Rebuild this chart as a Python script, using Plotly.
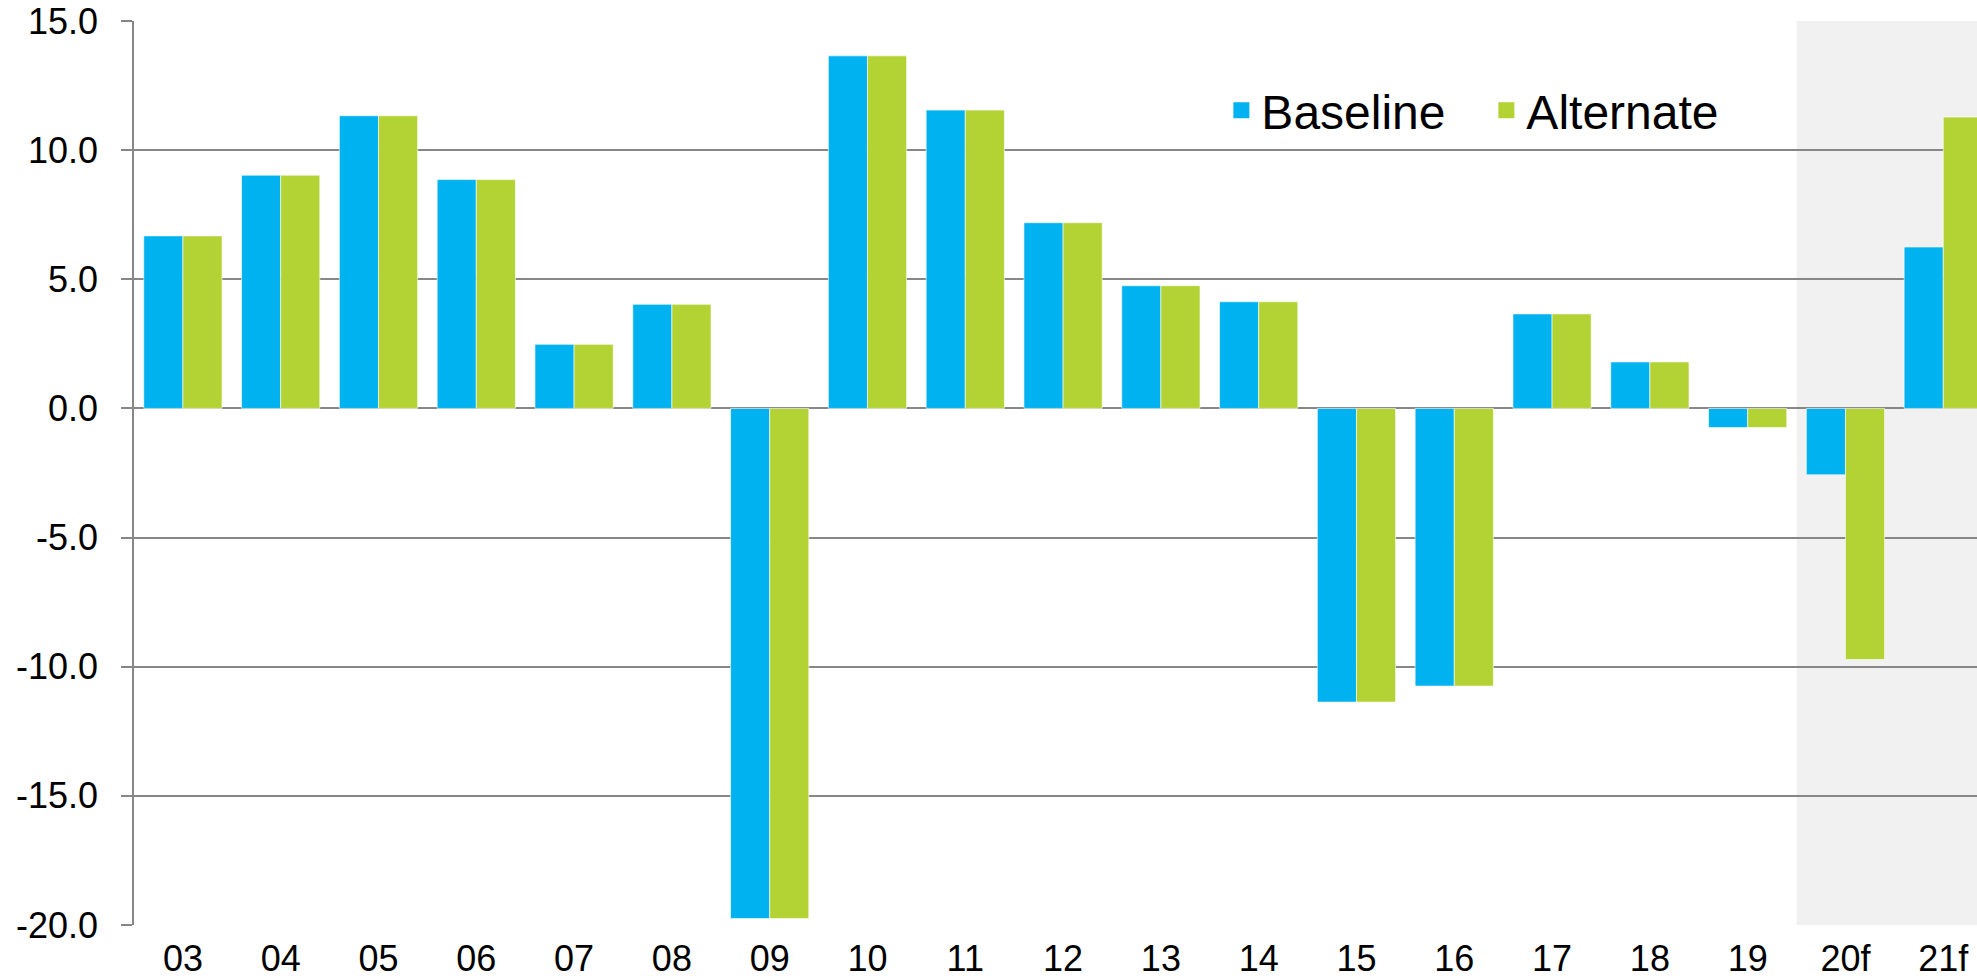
import plotly.graph_objects as go

# data
years = ['03', '04', '05', '06', '07', '08', '09', '10', '11', '12',
         '13', '14', '15', '16', '17', '18', '19', '20f', '21f']
baseline = [6.68, 9.03, 11.33, 8.86, 2.48, 4.03, -19.75, 13.65, 11.55, 7.19,
            4.75, 4.13, -11.37, -10.75, 3.66, 1.80, -0.74, -2.57, 6.25]
alternate = [6.68, 9.03, 11.33, 8.86, 2.48, 4.03, -19.75, 13.65, 11.55, 7.19,
             4.75, 4.13, -11.37, -10.75, 3.66, 1.80, -0.74, -9.72, 11.28]
y_ticks = [-20, -15, -10, -5, 0, 5, 10, 15]
y_labels = ['-20.0', '-15.0', '-10.0', '-5.0', '0.0', '5.0', '10.0', '15.0']

blue = '#00b2ef'
green = '#b3d335'
grid = '#878787'
font = 'Liberation Sans, Arial, sans-serif'

fig = go.Figure()
fig.add_trace(go.Bar(x=years, y=baseline, name='Baseline', marker_color=blue,
                     marker_line=dict(width=1, color='rgba(255,255,255,0.6)'),
                     showlegend=False))
fig.add_trace(go.Bar(x=years, y=alternate, name='Alternate', marker_color=green,
                     marker_line=dict(width=1, color='rgba(255,255,255,0.6)'),
                     showlegend=False))

# legend entries with bigger square swatches
for name, col in [('Baseline', blue), ('Alternate', green)]:
    fig.add_trace(go.Scatter(x=[None], y=[None], mode='markers', name=name,
                             marker=dict(symbol='square', size=24, color=col)))

# forecast shading (20f onwards)
fig.add_shape(type='rect', xref='x', yref='paper', x0=16.5, x1=18.6, y0=0, y1=1,
              fillcolor='#f1f1f1', line_width=0, layer='below')

fig.update_layout(
    width=1977, height=980,
    margin=dict(l=134, r=0, t=21, b=55, autoexpand=False),
    paper_bgcolor='white', plot_bgcolor='white',
    font=dict(family=font, size=36, color='black'),
    barmode='group', bargap=0.2, bargroupgap=0,
    legend=dict(orientation='h', x=0.590, y=0.901, xanchor='left', yanchor='middle',
                font=dict(size=48), bgcolor='rgba(0,0,0,0)',
                itemwidth=30, tracegroupgap=0, entrywidthmode='pixels', entrywidth=220),
)
fig.update_xaxes(type='category', range=[-0.5, 18.345], showgrid=False,
                 showline=False, ticks='', ticklabelstandoff=9, automargin=False,
                 tickfont=dict(size=36))
fig.update_yaxes(range=[-20, 15], tickvals=y_ticks, ticktext=y_labels,
                 showgrid=True, gridcolor=grid, gridwidth=1.5,
                 zeroline=True, zerolinecolor=grid, zerolinewidth=1.5,
                 showline=True, linecolor=grid, linewidth=1.5,
                 ticks='outside', ticklen=11, tickcolor=grid, tickwidth=1.5,
                 ticklabelstandoff=16, automargin=False, tickfont=dict(size=36))

# drop the default 8px page margin so the figure sits at the window corner
fig.write_html('out.html', config={'displayModeBar': False},
               post_script="document.body.style.margin='0';")
